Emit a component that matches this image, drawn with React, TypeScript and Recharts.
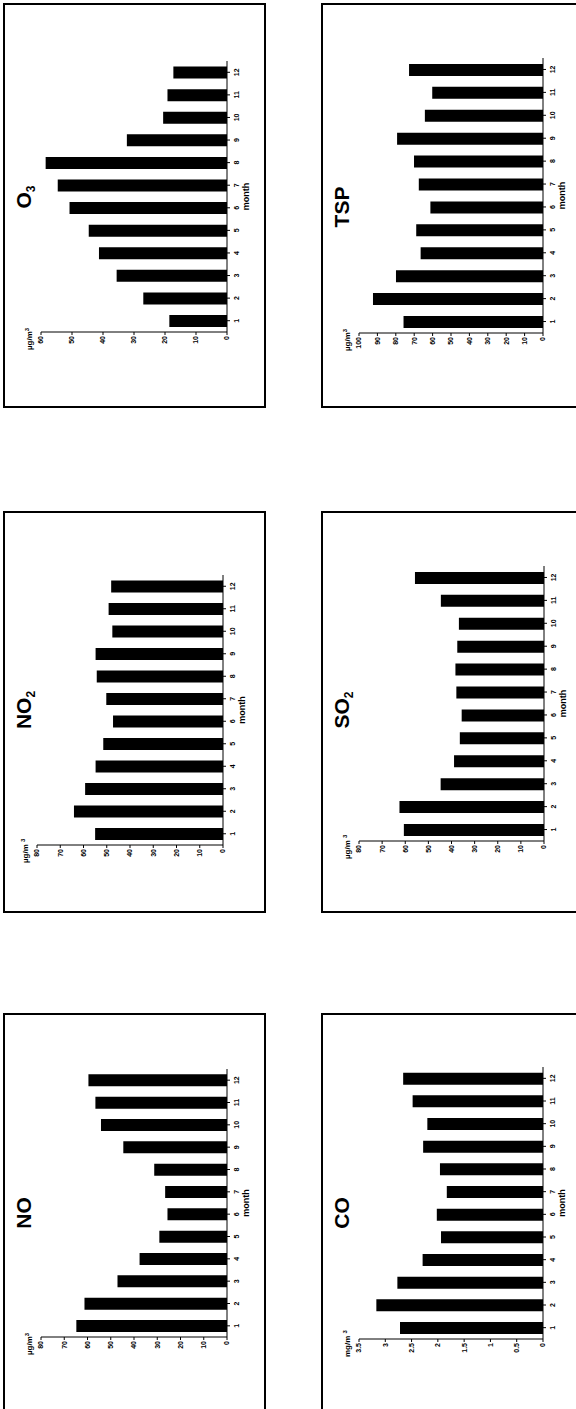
import { BarChart, Bar, XAxis, YAxis } from "recharts"

const FONT = "'Liberation Sans', Arial, sans-serif"

// months on the category axis
const months = [1, 2, 3, 4, 5, 6, 7, 8, 9, 10, 11, 12]

// monthly means
const o3Values = [18.6, 27.0, 35.6, 41.3, 44.6, 50.8, 54.6, 58.5, 32.3, 20.6, 19.2, 17.3]
const tspValues = [75.8, 92.4, 79.9, 66.5, 68.9, 61.2, 67.5, 70.1, 79.3, 64.2, 60.2, 72.8]
const no2Values = [55.0, 64.1, 59.3, 54.8, 51.5, 47.3, 50.2, 54.3, 54.8, 47.6, 49.2, 48.1]
const so2Values = [60.6, 62.5, 44.7, 38.9, 36.4, 35.6, 37.9, 38.3, 37.5, 36.8, 44.6, 55.8]
const noValues = [64.8, 61.3, 47.1, 37.6, 29.1, 25.6, 26.6, 31.3, 44.6, 54.2, 56.6, 59.6]
const coValues = [2.72, 3.17, 2.77, 2.29, 1.94, 2.02, 1.83, 1.96, 2.28, 2.2, 2.48, 2.66]

// value axis ticks
const o3Ticks = [0, 10, 20, 30, 40, 50, 60]
const tspTicks = [0, 10, 20, 30, 40, 50, 60, 70, 80, 90, 100]
const no2Ticks = [0, 10, 20, 30, 40, 50, 60, 70, 80]
const so2Ticks = [0, 10, 20, 30, 40, 50, 60, 70, 80]
const noTicks = [0, 10, 20, 30, 40, 50, 60, 70, 80]
const coTicks = [0, 0.5, 1, 1.5, 2, 2.5, 3, 3.5]

interface Panel {
  name: string
  sub?: string
  unit: string
  values: number[]
  ticks: number[]
  // page geometry of the (rotated) panel
  x0: number
  y0: number
  w: number
  h: number
  yTop: number
  yBot: number
  xMax: number
  xZero: number
  titleY: number
}

const panels: Panel[] = [
  { name: "O", sub: "3", unit: "µg/m", values: o3Values, ticks: o3Ticks, x0: 3, y0: 3, w: 405, h: 263, yTop: 61, yBot: 332, xMax: 41, xZero: 227, titleY: 197 },
  { name: "TSP", unit: "µg/m", values: tspValues, ticks: tspTicks, x0: 321, y0: 3, w: 405, h: 263, yTop: 58, yBot: 333, xMax: 359, xZero: 543, titleY: 207 },
  { name: "NO", sub: "2", unit: "µg/m ", values: no2Values, ticks: no2Ticks, x0: 3, y0: 511, w: 402, h: 263, yTop: 575, yBot: 845, xMax: 37, xZero: 223, titleY: 710 },
  { name: "SO", sub: "2", unit: "µg/m ", values: so2Values, ticks: so2Ticks, x0: 321, y0: 511, w: 402, h: 263, yTop: 566, yBot: 841, xMax: 359, xZero: 544, titleY: 710 },
  { name: "NO", unit: "µg/m", values: noValues, ticks: noTicks, x0: 3, y0: 1013, w: 405, h: 263, yTop: 1069, yBot: 1337, xMax: 41, xZero: 227, titleY: 1213 },
  { name: "CO", unit: "mg/m ", values: coValues, ticks: coTicks, x0: 321, y0: 1013, w: 405, h: 263, yTop: 1067, yBot: 1339, xMax: 359, xZero: 543, titleY: 1213 },
]

const Y_AXIS_W = 30
const X_AXIS_H = 30

function PanelChart({ p }: { p: Panel }) {
  const y1 = p.y0 + p.w
  const data = months.map((m, i) => ({ month: m, value: p.values[i] }))
  const plotLeft = y1 - p.yBot
  const plotRight = y1 - p.yTop
  const plotTop = p.xMax - p.x0
  const plotBottom = p.xZero - p.x0
  const mid = (plotLeft + plotRight) / 2
  const titleU = y1 - p.titleY

  return (
    <div
      style={{
        position: "absolute",
        left: p.x0,
        top: y1,
        width: p.w,
        height: p.h,
        transformOrigin: "0 0",
        transform: "rotate(-90deg)",
        fontFamily: FONT,
        color: "#000",
      }}
    >
      <BarChart
        width={p.w}
        height={p.h}
        data={data}
        margin={{
          top: plotTop,
          right: p.w - plotRight,
          left: plotLeft - Y_AXIS_W,
          bottom: p.h - plotBottom - X_AXIS_H,
        }}
      >
        <XAxis
          dataKey="month"
          height={X_AXIS_H}
          interval={0}
          tickSize={3}
          tickMargin={4}
          stroke="#000"
          tick={{ fontSize: 7, fontWeight: 700, fill: "#000", fontFamily: FONT }}
        />
        <YAxis
          width={Y_AXIS_W}
          domain={[0, p.ticks[p.ticks.length - 1]]}
          ticks={p.ticks}
          interval={0}
          tickSize={3}
          tickMargin={1}
          stroke="#000"
          tick={{ fontSize: 7, fontWeight: 700, fill: "#000", fontFamily: FONT }}
        />
        <Bar dataKey="value" fill="#000" barSize={12} isAnimationActive={false} />
      </BarChart>

      {/* panel title */}
      <div
        style={{
          position: "absolute",
          left: titleU - 50,
          top: 21 - 13,
          width: 100,
          height: 26,
          lineHeight: "26px",
          textAlign: "center",
          fontSize: 21,
          fontWeight: 700,
          whiteSpace: "nowrap",
        }}
      >
        {p.name}
        {p.sub && <sub style={{ fontSize: 12, verticalAlign: "-4px" }}>{p.sub}</sub>}
      </div>

      {/* unit */}
      <div
        style={{
          position: "absolute",
          left: plotLeft - 18,
          top: plotTop - 19,
          fontSize: 8,
          lineHeight: "10px",
          fontWeight: 700,
          whiteSpace: "nowrap",
        }}
      >
        {p.unit}
        <sup style={{ fontSize: 6, verticalAlign: "3px" }}>3</sup>
      </div>

      {/* category axis title */}
      <div
        style={{
          position: "absolute",
          left: mid - 30,
          top: plotBottom + 14,
          width: 60,
          textAlign: "center",
          fontSize: 9,
          lineHeight: "10px",
          fontWeight: 700,
        }}
      >
        month
      </div>

      <div
        style={{
          position: "absolute",
          left: 0,
          top: 0,
          width: p.w,
          height: p.h,
          boxSizing: "border-box",
          border: "2px solid #000",
          pointerEvents: "none",
        }}
      />
    </div>
  )
}

export default function App() {
  return (
    <div
      style={{
        position: "absolute",
        left: 0,
        top: 0,
        width: 576,
        height: 1409,
        overflow: "hidden",
        background: "#fff",
      }}
    >
      {panels.map((p, i) => (
        <PanelChart key={i} p={p} />
      ))}
    </div>
  )
}
